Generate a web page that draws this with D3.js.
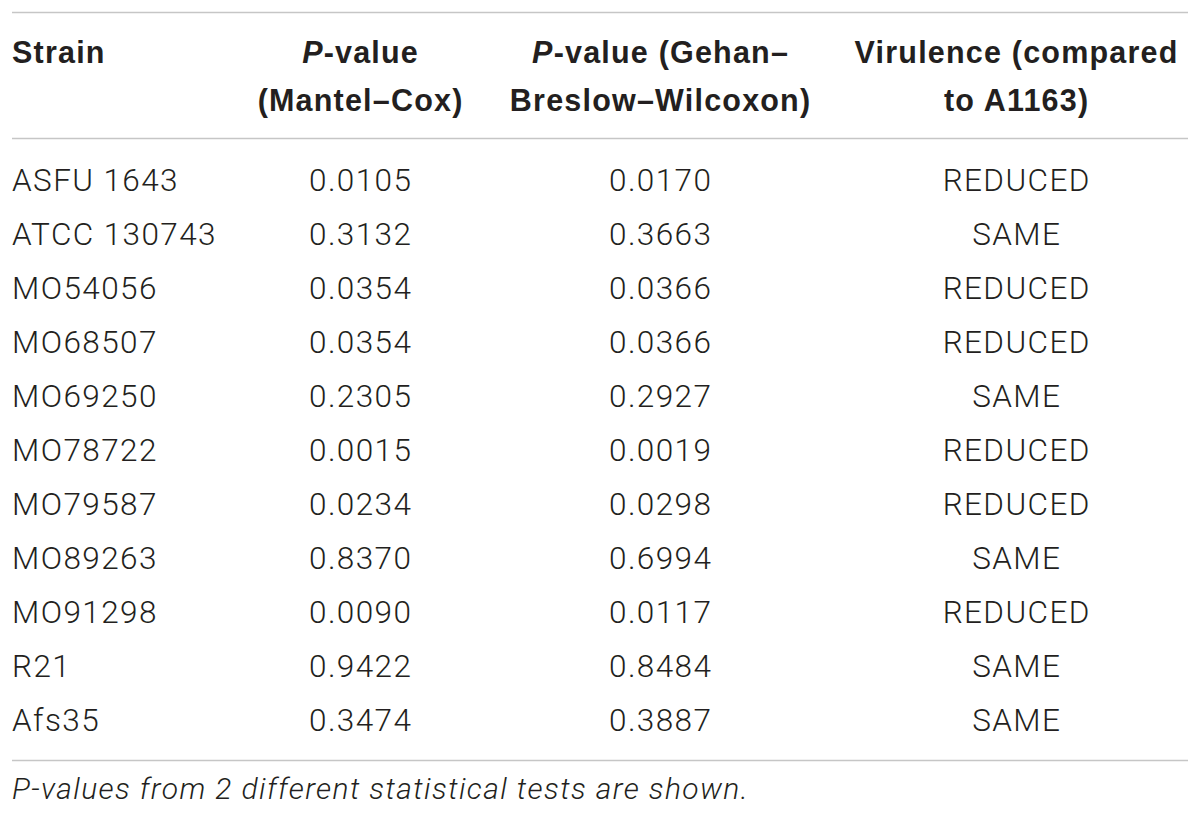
<!DOCTYPE html>
<meta charset="utf-8">
<script src="https://d3js.org/d3.v7.min.js"></script>
<style>
  body { margin: 0; background: #fff; }
</style>
<div id="table"></div>
<script>

// table contents
var strains = ["ASFU 1643", "ATCC 130743", "MO54056", "MO68507", "MO69250", "MO78722",
               "MO79587", "MO89263", "MO91298", "R21", "Afs35"];
var mantelCox = ["0.0105", "0.3132", "0.0354", "0.0354", "0.2305", "0.0015",
                 "0.0234", "0.8370", "0.0090", "0.9422", "0.3474"];
var gehanBreslow = ["0.0170", "0.3663", "0.0366", "0.0366", "0.2927", "0.0019",
                    "0.0298", "0.6994", "0.0117", "0.8484", "0.3887"];
var virulence = ["REDUCED", "SAME", "REDUCED", "REDUCED", "SAME", "REDUCED",
                 "REDUCED", "SAME", "REDUCED", "SAME", "SAME"];
var columns = ["strain", "mc", "gbw", "vir"];
var headerLines = [
  [[{t: "Strain"}], [{t: "P", i: true}, {t: "-value"}], [{t: "P", i: true}, {t: "-value (Gehan–"}], [{t: "Virulence (compared"}]],
  [[], [{t: "(Mantel–Cox)"}], [{t: "Breslow–Wilcoxon)"}], [{t: "to A1163)"}]]
];
var footnote = "P-values from 2 different statistical tests are shown.";

var width = 1200, height = 817;
var ink = "#231f20", rule = "#c6c6c6";
var bodyFont = "Roboto, 'Liberation Sans', sans-serif";
var headFont = "'Liberation Sans', Arial, sans-serif";

var svg = d3.select("#table")
  .append("svg")
    .attr("width", width)
    .attr("height", height);

// column anchors
var colX = d3.scaleOrdinal().domain(columns).range([12, 360, 660, 1016]);
var colAnchor = d3.scaleOrdinal().domain(columns).range(["start", "middle", "middle", "middle"]);

// rows
var y = d3.scaleBand().domain(strains).range([153, 747]);
var headY = d3.scalePoint().domain([0, 1]).range([52, 100]);

// horizontal rules
svg.selectAll(".rule")
  .data([12, 138, 760])
  .enter()
  .append("line")
    .attr("x1", 12)
    .attr("x2", 1188)
    .attr("y1", function(d) { return d + 0.5; })
    .attr("y2", function(d) { return d + 0.5; })
    .attr("stroke", rule)
    .attr("stroke-width", 1.5);

// header
headerLines.forEach(function(line, li) {
  line.forEach(function(parts, ci) {
    var c = columns[ci];
    var t = svg.append("text")
      .attr("x", colX(c) + (c === "strain" ? 0 : 0.6))
      .attr("y", headY(li))
      .attr("dy", "0.35em")
      .attr("text-anchor", colAnchor(c))
      .attr("font-family", headFont)
      .attr("font-weight", "bold")
      .attr("font-size", 30.5)
      .attr("letter-spacing", 1.2)
      .attr("fill", ink);
    parts.forEach(function(p) {
      t.append("tspan")
        .attr("font-style", p.i ? "italic" : "normal")
        .text(p.t);
    });
  });
});

// body rows
var rows = strains.map(function(s, i) {
  return {strain: s, mc: mantelCox[i], gbw: gehanBreslow[i], vir: virulence[i]};
});

rows.forEach(function(r) {
  svg.selectAll(null)
    .data(columns)
    .enter()
    .append("text")
      .attr("x", function(c) { return colX(c) + (c === "strain" ? 0 : 0.7); })
      .attr("y", y(r.strain) + y.bandwidth() / 2)
      .attr("dy", "0.35em")
      .attr("text-anchor", function(c) { return colAnchor(c); })
      .attr("font-family", bodyFont)
      .attr("font-weight", 300)
      .attr("font-size", 31.5)
      .attr("letter-spacing", 1.4)
      .attr("fill", ink)
      .text(function(c) { return r[c]; });
});

// footnote
svg.append("text")
  .attr("x", 12)
  .attr("y", 788)
  .attr("dy", "0.35em")
  .attr("font-family", bodyFont)
  .attr("font-weight", 300)
  .attr("font-style", "italic")
  .attr("font-size", 30)
  .attr("letter-spacing", 1.4)
  .attr("fill", ink)
  .text(footnote);

</script>
